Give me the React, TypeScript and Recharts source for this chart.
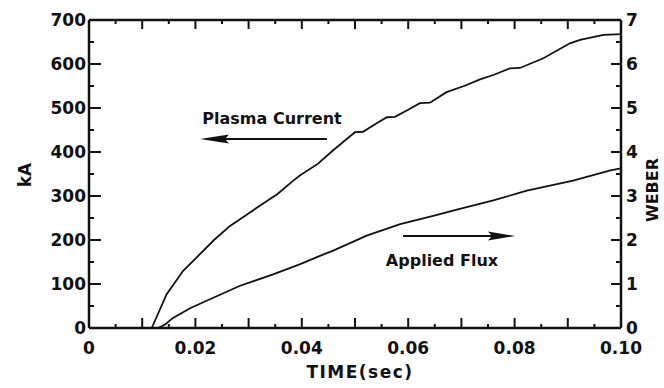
import { LineChart, Line, XAxis, YAxis } from 'recharts';

// Plasma current (kA) against time (s)
const CURRENT_T = [
  0.0118, 0.0146, 0.0177, 0.0202, 0.0235, 0.0265, 0.0295, 0.0321, 0.0355, 0.0384,
  0.0397, 0.043, 0.0459, 0.048, 0.05, 0.0515, 0.054, 0.056, 0.0575, 0.06,
  0.0622, 0.0641, 0.0672, 0.0705, 0.0735, 0.076, 0.0791, 0.081, 0.0854, 0.0904,
  0.0923, 0.0967, 0.1,
];
const CURRENT_KA = [
  0, 77, 130, 160, 200, 232, 256, 278, 305, 335,
  347, 373, 404, 425, 445, 446, 465, 479, 480, 496,
  511, 512, 536, 550, 565, 575, 590, 591, 613, 647,
  655, 666, 668,
];

// Applied flux (Wb) against time (s)
const FLUX_T = [
  0.013, 0.0143, 0.0158, 0.019, 0.0221, 0.0284, 0.0346, 0.0397, 0.0434, 0.0459,
  0.0522, 0.0585, 0.0647, 0.0697, 0.076, 0.0823, 0.091, 0.098, 0.1,
];
const FLUX_WB = [
  0, 0.08, 0.23, 0.45, 0.62, 0.96, 1.22, 1.45, 1.64, 1.76,
  2.1, 2.36, 2.55, 2.71, 2.9, 3.12, 3.35, 3.58, 3.63,
];

const X_TICKS = [
  0, 0.005, 0.01, 0.015, 0.02, 0.025, 0.03, 0.035, 0.04, 0.045, 0.05,
  0.055, 0.06, 0.065, 0.07, 0.075, 0.08, 0.085, 0.09, 0.095, 0.1,
];
const KA_TICKS = [0, 50, 100, 150, 200, 250, 300, 350, 400, 450, 500, 550, 600, 650, 700];
const WB_TICKS = [0, 0.5, 1, 1.5, 2, 2.5, 3, 3.5, 4, 4.5, 5, 5.5, 6, 6.5, 7];

const currentData = CURRENT_T.map((t, i) => ({ t, ka: CURRENT_KA[i] }));
const fluxData = FLUX_T.map((t, i) => ({ t, wb: FLUX_WB[i] }));

const FONT = '"DejaVu Sans", sans-serif';
const INK = '#111';

const fmtTime = (v: number) => (v === 0 ? '0' : v.toFixed(2));

const BottomTick = (props: any) => {
  const { x, y, payload } = props;
  const m = Math.round(payload.value * 1000);
  const major = m % 10 === 0;
  return (
    <g>
      <line x1={x} x2={x} y1={y} y2={y - (major ? 10 : 4)} stroke={INK} strokeWidth={2} />
      {m % 20 === 0 && (
        <text x={x} y={y + 26} textAnchor="middle" fontFamily={FONT} fontWeight="bold" fontSize={17} fill={INK}>
          {fmtTime(payload.value)}
        </text>
      )}
    </g>
  );
};

const TopTick = (props: any) => {
  const { x, y, payload } = props;
  const major = Math.round(payload.value * 1000) % 10 === 0;
  return <line x1={x} x2={x} y1={y} y2={y + (major ? 9 : 4)} stroke={INK} strokeWidth={2} />;
};

const LeftTick = (props: any) => {
  const { x, y, payload } = props;
  const major = payload.value % 100 === 0;
  return (
    <g>
      <line x1={x} x2={x + (major ? 12 : 5)} y1={y} y2={y} stroke={INK} strokeWidth={2} />
      {major && (
        <text x={x - 3} y={y + 6} textAnchor="end" fontFamily={FONT} fontWeight="bold" fontSize={17} fill={INK}>
          {payload.value}
        </text>
      )}
    </g>
  );
};

const RightTick = (props: any) => {
  const { x, y, payload } = props;
  const major = Number.isInteger(payload.value);
  return (
    <g>
      <line x1={x} x2={x - (major ? 10 : 5)} y1={y} y2={y} stroke={INK} strokeWidth={2} />
      {major && (
        <text x={x + 5} y={y + 6} textAnchor="start" fontFamily={FONT} fontWeight="bold" fontSize={17} fill={INK}>
          {payload.value}
        </text>
      )}
    </g>
  );
};

const axisLine = { stroke: INK, strokeWidth: 2.5 };

export default function App() {
  return (
    <div style={{ position: 'absolute', left: 0, top: 0, width: 664, height: 388, background: '#fff' }}>
      <LineChart width={664} height={388} margin={{ top: 0, right: 0, bottom: 0, left: 0 }}>
        <XAxis
          xAxisId="bottom"
          dataKey="t"
          type="number"
          domain={[0, 0.1]}
          ticks={X_TICKS}
          height={60}
          axisLine={axisLine}
          tickLine={false}
          tickSize={0}
          tickMargin={0}
          tick={<BottomTick />}
          interval={0}
          allowDataOverflow
        />
        <XAxis
          xAxisId="top"
          orientation="top"
          dataKey="t"
          type="number"
          domain={[0, 0.1]}
          ticks={X_TICKS}
          height={20}
          axisLine={axisLine}
          tickLine={false}
          tickSize={0}
          tickMargin={0}
          tick={<TopTick />}
          interval={0}
          allowDataOverflow
        />
        <YAxis
          yAxisId="left"
          type="number"
          domain={[0, 700]}
          ticks={KA_TICKS}
          width={89}
          axisLine={axisLine}
          tickLine={false}
          tickSize={0}
          tickMargin={0}
          tick={<LeftTick />}
          interval={0}
        />
        <YAxis
          yAxisId="right"
          orientation="right"
          type="number"
          domain={[0, 7]}
          ticks={WB_TICKS}
          width={43}
          axisLine={axisLine}
          tickLine={false}
          tickSize={0}
          tickMargin={0}
          tick={<RightTick />}
          interval={0}
        />
        <Line
          data={currentData}
          xAxisId="bottom"
          yAxisId="left"
          dataKey="ka"
          type="linear"
          stroke={INK}
          strokeWidth={1.8}
          dot={false}
          isAnimationActive={false}
        />
        <Line
          data={fluxData}
          xAxisId="bottom"
          yAxisId="right"
          dataKey="wb"
          type="linear"
          stroke={INK}
          strokeWidth={1.8}
          dot={false}
          isAnimationActive={false}
        />
      </LineChart>
      <svg
        width={664}
        height={388}
        style={{ position: 'absolute', left: 0, top: 0, pointerEvents: 'none' }}
        fontFamily={FONT}
        fontWeight="bold"
        fill={INK}
      >
        {/* axis titles */}
        <text transform="translate(31,175) rotate(-90)" textAnchor="middle" fontSize={17}>kA</text>
        <text transform="translate(658,190) rotate(-90)" textAnchor="middle" fontSize={16}>WEBER</text>
        <text x={360} y={378} textAnchor="middle" fontSize={17} letterSpacing={1.5}>TIME(sec)</text>

        {/* series annotations */}
        <text x={272} y={124} textAnchor="middle" fontSize={16}>Plasma Current</text>
        <line x1={327} x2={222} y1={139} y2={139} stroke={INK} strokeWidth={2} />
        <polygon points="200,139 229,134.5 225,139 229,143.5" />

        <text x={442} y={266} textAnchor="middle" fontSize={16}>Applied Flux</text>
        <line x1={403} x2={495} y1={236} y2={236} stroke={INK} strokeWidth={2} />
        <polygon points="515,236 488,231.5 492,236 488,240.5" />
      </svg>
    </div>
  );
}
